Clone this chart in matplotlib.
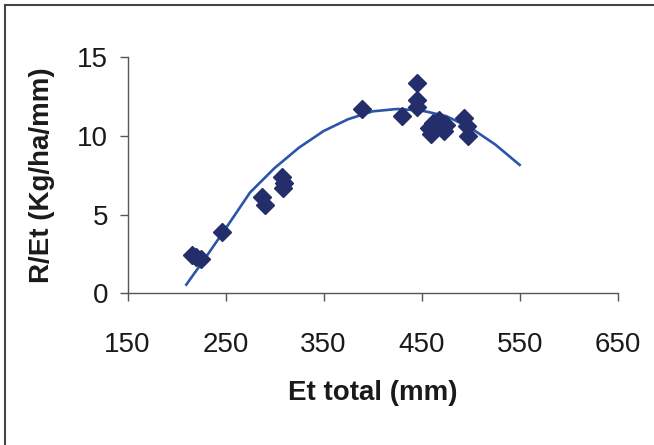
import matplotlib
matplotlib.use("Agg")
import matplotlib.pyplot as plt
from matplotlib.lines import Line2D

# measured points (Et total, R/Et)
et_total = [216, 220, 225, 246, 287, 290, 308, 310, 309, 389, 430,
            445, 445, 445, 458, 460, 462, 468, 470, 473, 475, 493, 496, 497]
r_et = [2.4, 2.3, 2.2, 3.9, 6.1, 5.6, 7.4, 7.0, 6.7, 11.7, 11.25,
        13.35, 12.3, 11.85, 10.5, 10.1, 10.8, 11.0, 10.6, 10.3, 10.7, 11.1, 10.6, 10.0]

# trend line
trend_x = [210, 230, 250, 275, 300, 325, 350, 375, 400, 425, 450, 475, 500, 525, 550]
trend_y = [0.55, 2.3, 4.1, 6.4, 7.95, 9.25, 10.3, 11.05, 11.55, 11.7, 11.6, 11.25, 10.5, 9.45, 8.15]

xticks = [150, 250, 350, 450, 550, 650]
yticks = [0, 5, 10, 15]

plt.rcParams['font.family'] = ["Liberation Sans", "DejaVu Sans"]

fig = plt.figure(figsize=(6.54, 4.45), dpi=100)
ax = fig.add_axes([127.5 / 654, 1 - 293.3 / 445, (617.7 - 127.5) / 654, (293.3 - 57) / 445])

ax.plot(trend_x, trend_y, color="#2B55A8", lw=1.9, zorder=2)
ax.plot(et_total, r_et, ls="none", marker="D", ms=9.5, color="#232E6A", zorder=3)

ax.set_xlim(150, 650)
ax.set_ylim(0, 15)
ax.set_xticks(xticks)
ax.set_yticks(yticks)
ax.spines["top"].set_visible(False)
ax.spines["right"].set_visible(False)
for s in ["left", "bottom"]:
    ax.spines[s].set_color("#555555")
    ax.spines[s].set_linewidth(1.0)
ax.tick_params(axis="both", direction="out", length=6, width=1.0, color="#555555",
               labelsize=20, labelcolor="#1a1a1a")
ax.tick_params(axis="x", pad=22)
ax.tick_params(axis="y", pad=8)

ax.set_xlabel("Et total (mm)", fontsize=20, fontweight="bold", color="#1a1a1a", labelpad=16)
ax.set_ylabel("R/Et (Kg/ha/mm)", fontsize=20, fontweight="bold", color="#1a1a1a", labelpad=16)

# partial frame around the chart area
fig.add_artist(Line2D([4.5 / 654, 4.5 / 654], [0, 1 - 5 / 445], transform=fig.transFigure,
                      color="#444444", lw=1.5))
fig.add_artist(Line2D([4.5 / 654, 1], [1 - 5 / 445, 1 - 5 / 445], transform=fig.transFigure,
                      color="#444444", lw=1.5))

fig.savefig("out.png", dpi=100)
